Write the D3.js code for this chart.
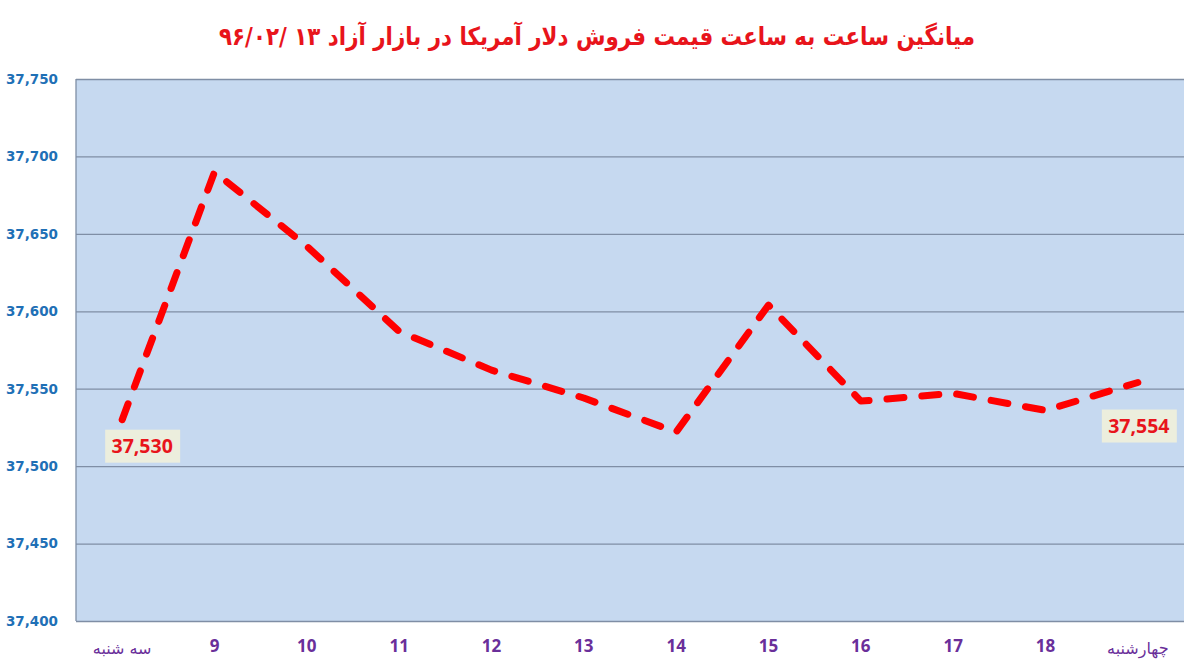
<!DOCTYPE html>
<html>
<head>
<meta charset="utf-8">
<script src="https://cdn.jsdelivr.net/npm/d3@7"></script>
<style>
body { margin: 0; background: #fff; }
</style>
</head>
<body>
<div id="chart"></div>
<script>
// chart data
const categories = ["سه شنبه", "9", "10", "11", "12", "13", "14", "15", "16", "17", "18", "چهارشنبه"];
const prices = [37530, 37690, 37642, 37587, 37562, 37544, 37522, 37604, 37542, 37547, 37536, 37554];
const yTicks = [37400, 37450, 37500, 37550, 37600, 37650, 37700, 37750];
const labelled = [0, 11];
const title = "میانگین ساعت به ساعت قیمت فروش دلار آمریکا در بازار آزاد ۱۳ \u200F/\u200F۰۲\u200F/\u200F۹۶";

const W = 1196, H = 669;
const margin = { top: 79, right: 12, bottom: 48, left: 76 };
const width = W - margin.left - margin.right,
      height = H - margin.top - margin.bottom;

const svg = d3.select("#chart").append("svg")
  .attr("width", W)
  .attr("height", H);

// title
svg.append("text")
  .attr("x", 597)
  .attr("y", 45)
  .attr("direction", "rtl")
  .attr("text-anchor", "middle")
  .attr("font-family", "DejaVu Sans")
  .attr("font-weight", "bold")
  .attr("font-size", 25)
  .attr("fill", "#e8141b")
  .attr("textLength", 756)
  .attr("lengthAdjust", "spacingAndGlyphs")
  .text(title);

const g = svg.append("g")
  .attr("transform", `translate(${margin.left},${margin.top})`);

const x = d3.scaleBand()
  .domain(categories)
  .range([0, width]);

const y = d3.scaleLinear()
  .domain([37400, 37750])
  .range([height, 0]);

// plot background
g.append("rect")
  .attr("width", width)
  .attr("height", height)
  .attr("fill", "#c6d9f0");

// gridlines
g.append("g")
  .call(d3.axisLeft(y).tickValues(yTicks).tickSize(-width).tickFormat(""))
  .call(s => s.select(".domain").remove())
  .call(s => s.selectAll("line").attr("stroke", "#7f8ea5").attr("stroke-width", 1.3));

// left axis line
g.append("line")
  .attr("x1", 0).attr("x2", 0)
  .attr("y1", 0).attr("y2", height)
  .attr("stroke", "#7f8ea5")
  .attr("stroke-width", 1.3);

// y tick labels
g.append("g")
  .call(d3.axisLeft(y).tickValues(yTicks).tickSize(0).tickPadding(18).tickFormat(d3.format(",")))
  .call(s => s.select(".domain").remove())
  .call(s => s.selectAll("text")
    .attr("font-family", "DejaVu Sans")
    .attr("font-weight", "bold")
    .attr("font-size", 13.5)
    .attr("fill", "#1f70b6"));

// x tick labels
g.append("g")
  .attr("transform", `translate(0,${height})`)
  .call(d3.axisBottom(x).tickSize(0).tickPadding(19))
  .call(s => s.select(".domain").remove())
  .call(s => s.selectAll("text")
    .attr("font-family", d => isNaN(+d) ? "DejaVu Sans" : "Open Sans")
    .attr("font-weight", d => isNaN(+d) ? "normal" : "bold")
    .attr("font-size", d => isNaN(+d) ? 16 : 17)
    .attr("dy", d => isNaN(+d) ? "0.9em" : "0.71em")
    .attr("fill", "#6a2f9a"));

// dashed price line
const line = d3.line()
  .x((d, i) => x(categories[i]) + x.bandwidth() / 2)
  .y(d => y(d));

g.append("path")
  .datum(prices)
  .attr("d", line)
  .attr("fill", "none")
  .attr("stroke", "#ff0000")
  .attr("stroke-width", 7)
  .attr("stroke-linecap", "round")
  .attr("stroke-linejoin", "round")
  .attr("stroke-dasharray", "17,18");

// data labels
const fmt = d3.format(",");
const lab = g.selectAll(".lbl")
  .data(labelled)
  .enter().append("g")
  .attr("class", "lbl")
  .attr("transform", i => {
    const cx = x(categories[i]) + x.bandwidth() / 2 + (i === 0 ? 20 : 1);
    const cy = y(prices[i]) + (i === 0 ? 26 : 43);
    return `translate(${cx},${cy})`;
  });

lab.append("rect")
  .attr("x", -37)
  .attr("y", -16)
  .attr("width", 75)
  .attr("height", 33)
  .attr("fill", "#eceedd");

lab.append("text")
  .attr("text-anchor", "middle")
  .attr("dy", "0.36em")
  .attr("font-family", "Open Sans")
  .attr("font-weight", "bold")
  .attr("font-size", 19.5)
  .attr("fill", "#e8141b")
  .text(i => fmt(prices[i]));
</script>
</body>
</html>
